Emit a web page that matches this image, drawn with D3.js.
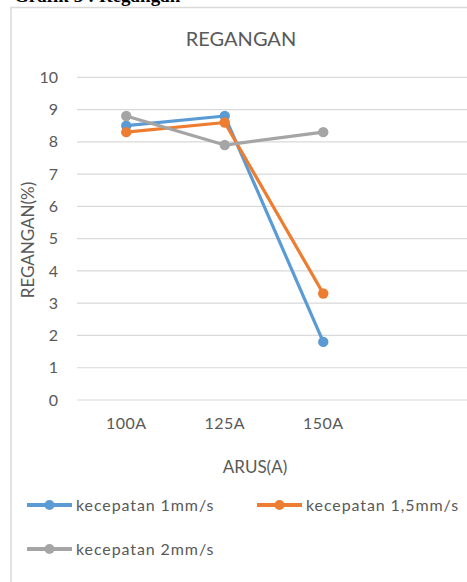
<!DOCTYPE html>
<html>
<head>
<meta charset="utf-8">
<script src="https://cdn.jsdelivr.net/npm/d3@7"></script>
<style>
  body { margin: 0; background: #fff; }
  svg { display: block; }
</style>
</head>
<body>
<script>
// data
var categories = ['100A', '125A', '150A', ''];
var seriesNames = ['kecepatan 1mm/s', 'kecepatan 1,5mm/s', 'kecepatan 2mm/s'];
var speed1 = [8.5, 8.8, 1.8];
var speed15 = [8.3, 8.6, 3.3];
var speed2 = [8.8, 7.9, 8.3];
var yTicks = [0, 1, 2, 3, 4, 5, 6, 7, 8, 9, 10];

var width = 467, height = 582;
var font = 'Lato';
var textColor = '#595959';
var colors = ['#5B9BD5', '#ED7D31', '#A5A5A5'];
var series = [speed1, speed15, speed2];

var svg = d3.select('body').append('svg')
  .attr('width', width)
  .attr('height', height);

// caption above the chart box, cut off by the page edge like in the source
svg.append('text')
  .attr('x', 14)
  .attr('y', 1.5)
  .attr('font-family', 'Liberation Serif')
  .attr('font-weight', 'bold')
  .attr('font-size', '19px')
  .attr('fill', '#000')
  .text('Grafik 3 : Regangan');

// chart frame
svg.append('rect')
  .attr('x', 11)
  .attr('y', 7.5)
  .attr('width', 470)
  .attr('height', 600)
  .attr('fill', '#fff')
  .attr('stroke', '#D9D9D9')
  .attr('stroke-width', 1.5);

var x = d3.scaleBand()
  .domain(categories)
  .range([77, 471]);

var y = d3.scaleLinear()
  .domain([0, 10])
  .range([400, 77.3]);

// gridlines
svg.append('g')
  .selectAll('line')
  .data(yTicks)
  .enter()
  .append('line')
  .attr('x1', 77)
  .attr('x2', 471)
  .attr('y1', function(d) { return y(d); })
  .attr('y2', function(d) { return y(d); })
  .attr('stroke', '#D9D9D9')
  .attr('stroke-width', 1.2);

// y axis labels
var yAxis = d3.axisLeft(y).tickValues(yTicks).tickSize(0).tickPadding(19);
var yg = svg.append('g')
  .attr('transform', 'translate(77,0)')
  .call(yAxis);
yg.select('.domain').remove();
yg.selectAll('text')
  .attr('font-family', font)
  .attr('font-size', '16px')
  .attr('fill', textColor);

// x axis labels
var xAxis = d3.axisBottom(x).tickSize(0).tickPadding(18);
var xg = svg.append('g')
  .attr('transform', 'translate(0,400)')
  .call(xAxis);
xg.select('.domain').remove();
xg.selectAll('text')
  .attr('font-family', font)
  .attr('font-size', '16px')
  .attr('letter-spacing', '0.4px')
  .attr('fill', textColor);

// title
svg.append('text')
  .attr('x', 241)
  .attr('y', 46)
  .attr('text-anchor', 'middle')
  .attr('font-family', font)
  .attr('font-size', '20px')
  .attr('fill', textColor)
  .text('REGANGAN');

// axis titles
svg.append('text')
  .attr('x', 255)
  .attr('y', 473)
  .attr('text-anchor', 'middle')
  .attr('font-family', font)
  .attr('font-size', '17px')
  .attr('fill', textColor)
  .text('ARUS(A)');

svg.append('text')
  .attr('transform', 'translate(34,240) rotate(-90)')
  .attr('text-anchor', 'middle')
  .attr('font-family', font)
  .attr('font-size', '17px')
  .attr('fill', textColor)
  .text('REGANGAN(%)');

// lines and markers
var line = d3.line()
  .x(function(d, i) { return x(categories[i]) + x.bandwidth() / 2; })
  .y(function(d) { return y(d); });

series.forEach(function(values, s) {
  var g = svg.append('g');
  g.append('path')
    .datum(values)
    .attr('d', line)
    .attr('fill', 'none')
    .attr('stroke', colors[s])
    .attr('stroke-width', 3.2)
    .attr('stroke-linejoin', 'round');
  g.selectAll('circle')
    .data(values)
    .enter()
    .append('circle')
    .attr('cx', function(d, i) { return x(categories[i]) + x.bandwidth() / 2; })
    .attr('cy', function(d) { return y(d); })
    .attr('r', 5.2)
    .attr('fill', colors[s]);
});

// legend
var legendPos = [[27, 505], [257, 505], [27, 549]];
seriesNames.forEach(function(name, s) {
  var lx = legendPos[s][0], ly = legendPos[s][1];
  var g = svg.append('g').attr('transform', 'translate(' + lx + ',' + ly + ')');
  g.append('line')
    .attr('x1', 0).attr('x2', 45)
    .attr('y1', 0).attr('y2', 0)
    .attr('stroke', colors[s])
    .attr('stroke-width', 3.8);
  g.append('circle')
    .attr('cx', 22.5).attr('cy', 0).attr('r', 5)
    .attr('fill', colors[s]);
  g.append('text')
    .attr('x', 49)
    .attr('y', 5.5)
    .attr('font-family', font)
    .attr('font-size', '16px')
    .attr('letter-spacing', '0.9px')
    .attr('fill', textColor)
    .text(name);
});
</script>
</body>
</html>
